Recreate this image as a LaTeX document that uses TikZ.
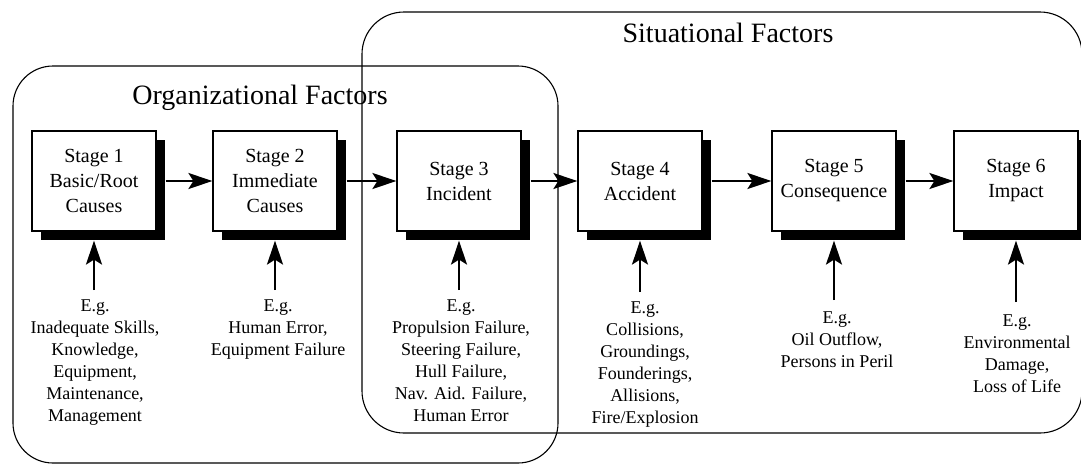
\documentclass[tikz,border=0pt]{standalone}
\usepackage{fontspec}
\setmainfont{Liberation Serif}
\usetikzlibrary{arrows.meta,shadows}
\begin{document}
\begin{tikzpicture}[x=1pt,y=-1pt,
  stagebox/.style={draw, line width=1.2pt, fill=white, minimum width=124pt, minimum height=100pt,
    align=center, font=\fontsize{20}{25}\selectfont, inner sep=0pt,
    drop shadow={shadow xshift=9pt, shadow yshift=-9pt, fill=black, opacity=1, draw=none}},
  region/.style={draw, line width=1.1pt},
  flow/.style={line width=2pt, -{Stealth[length=24pt,width=16pt,inset=5pt]}},
  example/.style={align=center, font=\fontsize{18}{22}\selectfont, inner sep=0pt, anchor=north},
  title/.style={font=\fontsize{28}{32}\selectfont, inner sep=0pt}]
\useasboundingbox (0,0) rectangle (1081,467);
% regions
\draw[region, rounded corners=40pt] (13,66) rectangle (558,463);
\draw[region, rounded corners=42pt] (362,12) rectangle (1082,433);
\node[title] (orgt) at (260,98) {Organizational Factors};
\node[title] (sitt) at (728,33) {Situational Factors};
% stages
\node[stagebox] (s1) at (94,181) {Stage 1\\Basic/Root\\Causes};
\node[stagebox] (s2) at (275,181) {Stage 2\\Immediate\\Causes};
\node[stagebox] (s3) at (459,181) {Stage 3\\Incident};
\node[stagebox] (s4) at (640,181) {Stage 4\\Accident};
\node[stagebox] (s5) at (834,181) {Stage 5\\Consequence};
\node[stagebox] (s6) at (1016,181) {Stage 6\\Impact};
% horizontal flow
\draw[flow] ([xshift=9pt]s1.east) -- (s2.west);
\draw[flow] ([xshift=9pt]s2.east) -- (s3.west);
\draw[flow] ([xshift=9pt]s3.east) -- (s4.west);
\draw[flow] ([xshift=9pt]s4.east) -- (s5.west);
\draw[flow] ([xshift=9pt]s5.east) -- (s6.west);
% examples
\coordinate (t1) at (94,290);
\coordinate (t2) at (275,290);
\coordinate (t3) at (459,290);
\coordinate (t4) at (640,292);
\coordinate (t5) at (834,300);
\coordinate (t6) at (1016,302);
\draw[flow] (t1) -- ([yshift=-9pt]s1.south);
\draw[flow] (t2) -- ([yshift=-9pt]s2.south);
\draw[flow] (t3) -- ([yshift=-9pt]s3.south);
\draw[flow] (t4) -- ([yshift=-9pt]s4.south);
\draw[flow] (t5) -- ([yshift=-9pt]s5.south);
\draw[flow] (t6) -- ([yshift=-9pt]s6.south);
\node[example] (ex1) at (95,300) {E.g.\\Inadequate Skills,\\Knowledge,\\Equipment,\\Maintenance,\\Management};
\node[example] (ex2) at (278,300) {E.g.\\Human Error,\\Equipment Failure};
\node[example] (ex3) at (461,300) {E.g.\\Propulsion Failure,\\Steering Failure,\\Hull Failure,\\Nav. Aid. Failure,\\Human Error};
\node[example] (ex4) at (645,302) {E.g.\\Collisions,\\Groundings,\\Founderings,\\Allisions,\\Fire/Explosion};
\node[example] (ex5) at (837,312) {E.g.\\Oil Outflow,\\Persons in Peril};
\node[example] (ex6) at (1017,315) {E.g.\\Environmental\\Damage,\\Loss of Life};
\end{tikzpicture}
\end{document}
